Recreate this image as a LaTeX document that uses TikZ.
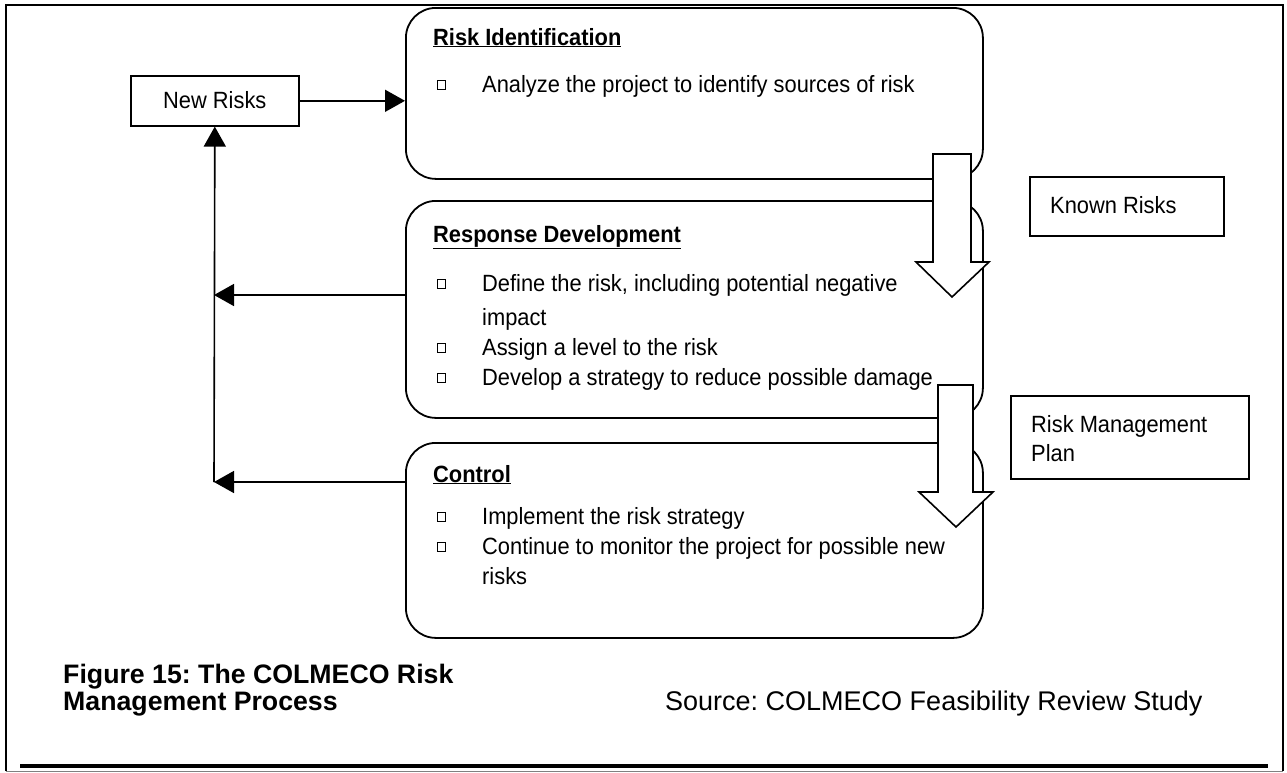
\documentclass[tikz,border=0pt]{standalone}
\usepackage{fontspec}
\setmainfont{Liberation Sans}
\newfontfamily\boxfont[FakeStretch=0.93]{Liberation Sans}
\usetikzlibrary{arrows.meta,calc}
\frenchspacing

\begin{document}
\begin{tikzpicture}[x=1pt,y=-1pt,
    stage/.style={draw, line width=1.8pt, rounded corners=30pt, inner sep=0pt,
                  minimum width=577pt, anchor=north west},
    tag/.style={draw, line width=1.6pt, inner sep=0pt, anchor=north west},
    conn/.style={line width=1.6pt, -{Triangle[length=20pt,width=22pt]}},
    flow/.style={draw, fill=white, line width=1.6pt, line join=miter},
    txt/.style={inner sep=0pt, anchor=base west,
                font=\boxfont\fontsize{23.5pt}{28pt}\selectfont},
    captxt/.style={inner sep=0pt, anchor=base west},
    bul/.style={draw, line width=1.4pt, minimum size=8.5pt, inner sep=0pt}]
\useasboundingbox (0,0) rectangle (1287,772);

% outer frame and rule
\draw[line width=1.2pt] (6,771) -- (6,5) -- (1283,5) -- (1283,771);
\draw[line width=0.6pt, black!50] (6,771) -- (1283,771);
\draw[line width=4pt] (20,766) -- (1268,766);

% process stages
\node[stage, minimum height=171pt] (b1) at (405,7) {};
\node[stage, minimum height=217pt] (b2) at (405,200) {};
\node[stage, minimum height=195pt] (b3) at (405,442) {};

% side labels
\node[tag, minimum width=168pt, minimum height=50pt] (nr) at (130,75) {};
\node[txt, anchor=base] at ($(nr.center)+(0,8)$) {New Risks};
\node[tag, minimum width=194pt, minimum height=59pt] (kr) at (1029,176) {};
\node[txt] at (1050,213) {Known Risks};
\node[tag, minimum width=238pt, minimum height=83pt] (rmp) at (1010,395) {};
\node[txt] at (1031,432) {Risk Management};
\node[txt] at (1031,461) {Plan};

% stage 1
\node[txt] (t1) at (433,45) {\underline{\textbf{Risk Identification}}};
\node[bul] at (441.5,85) {};
\node[txt] at (482,92) {Analyze the project to identify sources of risk};

% stage 2
\node[txt] (t2) at (433,242) {\underline{\textbf{Response Development}}};
\node[bul] at (441.5,284) {};
\node[txt] at (482,291) {Define the risk, including potential negative};
\node[txt] at (482,325) {impact};
\node[bul] at (441.5,348) {};
\node[txt] at (482,355) {Assign a level to the risk};
\node[bul] at (441.5,378) {};
\node[txt] at (482,385) {Develop a strategy to reduce possible damage};

% stage 3
\node[txt] (t3) at (433,482) {\underline{\textbf{Control}}};
\node[bul] at (441.5,517) {};
\node[txt] at (482,524) {Implement the risk strategy};
\node[bul] at (441.5,547) {};
\node[txt] at (482,554) {Continue to monitor the project for possible new};
\node[txt] at (482,584) {risks};

% feedback loop
\coordinate (jc) at (214,482);
\coordinate (a2) at (405,295);
\draw[conn] (nr.east) -- (nr.east -| b1.west);
\draw[line width=1.6pt] (jc) -- ($(nr.south)+(0,18)$);
\draw[conn] ($(nr.south)+(0,18)$) -- (nr.south);
\draw[conn] (a2) -- (a2 -| jc);
\draw[conn] (b3.west |- jc) -- (jc);

% block arrows between stages
\draw[flow] (933,154) -- (971,154) -- (971,262) -- (989,262) -- (952,297)
            -- (916,262) -- (933,262) -- cycle;
\draw[flow] (938,385) -- (973,385) -- (973,492) -- (993,492) -- (956,527)
            -- (919,492) -- (938,492) -- cycle;

% caption and source
\node[captxt, font=\bfseries\fontsize{26.7pt}{30pt}\selectfont] (fig) at (63,683)
  {Figure 15: The COLMECO Risk};
\node[captxt, font=\bfseries\fontsize{26.7pt}{30pt}\selectfont] at (63,710)
  {Management Process};
\node[captxt, font=\fontsize{27pt}{30pt}\selectfont] (src) at (665,710)
  {Source: COLMECO Feasibility Review Study};
\end{tikzpicture}
\end{document}
